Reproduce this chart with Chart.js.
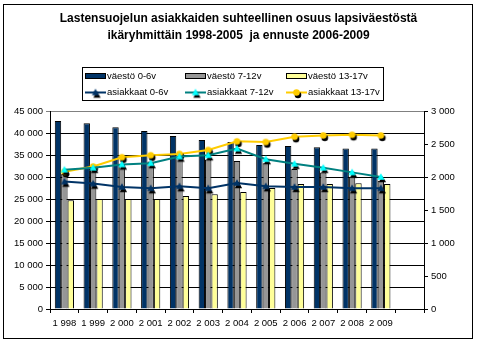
<!DOCTYPE html>
<html>
<head>
<meta charset="utf-8">
<script src="https://cdn.jsdelivr.net/npm/chart.js@4"></script>
<style>
  html, body { margin: 0; padding: 0; background: #fff; }
  #wrap { width: 477px; height: 342px; }
</style>
</head>
<body>
<div id="wrap"><canvas id="chart" width="477" height="342"></canvas></div>
<script>
// Vuodet (viimeinen paikka jää tyhjäksi kuten alkuperäisessä kaaviossa)
const years = [1998, 1999, 2000, 2001, 2002, 2003, 2004, 2005, 2006, 2007, 2008, 2009, ''];

// Väestö ikäryhmittäin (vasen akseli)
const vaesto06 = [42700, 42200, 41300, 40450, 39300, 38400, 37950, 37270, 37050, 36750, 36500, 36500, null];
const vaesto712 = [30700, 31900, 32900, 33500, 34300, 34000, 33650, 33100, 31800, 31000, 30070, 29150, null];
const vaesto1317 = [24700, 25000, 25000, 25000, 25700, 26100, 26600, 27500, 28400, 28400, 28600, 28400, null];

// Lastensuojelun asiakkaat (oikea akseli)
const asiakkaat06 = [1930, 1900, 1850, 1830, 1860, 1830, 1910, 1860, 1850, 1850, 1830, 1830, null];
const asiakkaat712 = [2110, 2140, 2190, 2210, 2310, 2330, 2430, 2270, 2200, 2140, 2070, 2000, null];
const asiakkaat1317 = [2080, 2160, 2300, 2330, 2350, 2410, 2540, 2530, 2610, 2630, 2640, 2630, null];

const FONT = 'Arial, "Liberation Sans", sans-serif';

// 45000 -> "45 000"
function fmt(v) {
  return String(v).replace(/\B(?=(\d{3})+(?!\d))/g, ' ');
}

// Merkki, jolla on musta varjo oikealla alhaalla
function marker(shape, fill, r) {
  const c = document.createElement('canvas');
  const s = Math.ceil(r * 2 + 8);
  c.width = s;
  c.height = s;
  const g = c.getContext('2d');
  const m = s / 2;
  function shapePath(x, y) {
    g.beginPath();
    if (shape === 'triangle') {
      g.moveTo(x, y - r);
      g.lineTo(x + r * 0.95, y + r * 0.75);
      g.lineTo(x - r * 0.95, y + r * 0.75);
      g.closePath();
    } else {
      g.arc(x, y, r, 0, Math.PI * 2);
    }
  }
  g.fillStyle = '#000';
  shapePath(m + 1.5, m + 2.5);
  g.fill();
  g.fillStyle = fill;
  shapePath(m, m);
  g.fill();
  return c;
}

const mNavy = marker('triangle', '#003366', 3.8);
const mCyan = marker('triangle', '#00ffff', 3.8);
const mGold = marker('circle', '#ffcc00', 3.3);

// Kehys ja selite
const framePlugin = {
  id: 'frame',
  beforeDraw(chart) {
    const ctx = chart.ctx;
    ctx.save();
    ctx.fillStyle = '#fff';
    ctx.fillRect(0, 0, chart.width, chart.height);
    ctx.restore();
  },
  afterDraw(chart) {
    const ctx = chart.ctx;
    ctx.save();
    ctx.strokeStyle = '#000';
    ctx.lineWidth = 1;
    ctx.strokeRect(3.5, 4.5, 469, 334);

    // selitelaatikko
    ctx.fillStyle = '#fff';
    ctx.fillRect(82, 67, 302, 34);
    ctx.strokeRect(82.5, 67.5, 301, 33);

    const cols = [85, 185, 286];
    const rows = [76, 92.5];
    ctx.font = '9.5px ' + FONT;
    ctx.textBaseline = 'middle';
    chart.data.datasets.forEach((ds, i) => {
      const x = cols[i % 3];
      const y = rows[Math.floor(i / 3)];
      if (ds.type === 'bar') {
        ctx.fillStyle = ds.backgroundColor;
        ctx.fillRect(x, y - 2, 20, 5);
        ctx.strokeStyle = '#000';
        ctx.strokeRect(x + 0.5, y - 2.5, 20, 5);
      } else {
        ctx.strokeStyle = ds.borderColor;
        ctx.lineWidth = 2;
        ctx.beginPath();
        ctx.moveTo(x, y);
        ctx.lineTo(x + 21, y);
        ctx.stroke();
        const img = ds.pointStyle;
        ctx.drawImage(img, x + 10.5 - img.width / 2, y - img.height / 2);
      }
      ctx.fillStyle = '#000';
      ctx.fillText(ds.label, x + 22, y);
    });
    ctx.restore();
  }
};

const barStyle = { type: 'bar', yAxisID: 'y', borderColor: '#000', borderWidth: 1, order: 1 };
const lineStyle = { type: 'line', yAxisID: 'y1', borderWidth: 2, tension: 0, order: 0, pointRadius: 4, pointHoverRadius: 4 };

new Chart(document.getElementById('chart'), {
  data: {
    labels: years,
    datasets: [
      { ...barStyle, label: 'väestö 0-6v', data: vaesto06, backgroundColor: '#003366' },
      { ...barStyle, label: 'väestö 7-12v', data: vaesto712, backgroundColor: '#969696' },
      { ...barStyle, label: 'väestö 13-17v', data: vaesto1317, backgroundColor: '#ffff99' },
      { ...lineStyle, label: 'asiakkaat 0-6v', data: asiakkaat06, borderColor: '#003366', pointStyle: mNavy },
      { ...lineStyle, label: 'asiakkaat 7-12v', data: asiakkaat712, borderColor: '#008080', pointStyle: mCyan },
      { ...lineStyle, label: 'asiakkaat 13-17v', data: asiakkaat1317, borderColor: '#ffcc00', pointStyle: mGold }
    ]
  },
  options: {
    responsive: false,
    animation: false,
    layout: { padding: 0 },
    datasets: {
      bar: { categoryPercentage: 0.667, barPercentage: 1.0 }
    },
    plugins: {
      legend: { display: false },
      tooltip: { enabled: false },
      title: {
        display: true,
        text: ['Lastensuojelun asiakkaiden suhteellinen osuus lapsiväestöstä',
               'ikäryhmittäin 1998-2005  ja ennuste 2006-2009'],
        color: '#000',
        font: { family: FONT, size: 12, weight: 'bold', lineHeight: 1.375 },
        padding: { top: 10.75, bottom: 67.25 }
      }
    },
    scales: {
      x: {
        offset: true,
        grid: { offset: true, drawOnChartArea: false, color: '#000', tickLength: 4 },
        border: { color: '#000' },
        ticks: {
          color: '#000',
          font: { family: FONT, size: 9.5 },
          padding: 5,
          maxRotation: 0,
          autoSkip: false,
          callback: function (v, i) { return fmt(years[i]); }
        },
        afterFit(scale) { scale.height = 33; }
      },
      y: {
        position: 'left',
        min: 0,
        max: 45000,
        grid: {
          color: (c) => (c.tick && c.tick.value === 45000 ? '#808080' : '#000'),
          tickLength: 4
        },
        border: { color: '#000' },
        ticks: {
          stepSize: 5000,
          color: '#000',
          font: { family: FONT, size: 9.5 },
          padding: 3,
          callback: (v) => fmt(v)
        },
        afterFit(scale) { scale.width = 50; }
      },
      y1: {
        position: 'right',
        min: 0,
        max: 3000,
        grid: { drawOnChartArea: false, color: '#000', tickLength: 4 },
        border: { color: '#000' },
        ticks: {
          stepSize: 500,
          color: '#000',
          font: { family: FONT, size: 9.5 },
          padding: 3,
          callback: (v) => fmt(v)
        },
        afterFit(scale) { scale.width = 53; }
      }
    }
  },
  plugins: [framePlugin]
});
</script>
</body>
</html>
